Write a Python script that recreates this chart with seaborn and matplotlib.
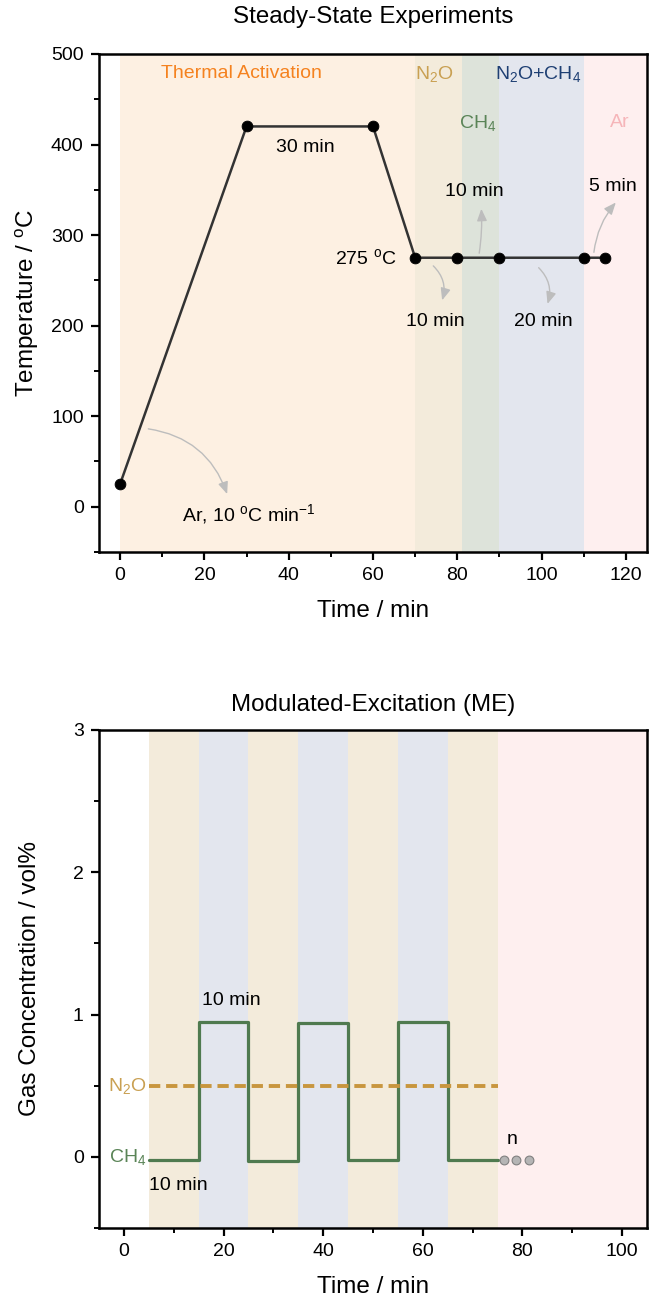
import matplotlib
matplotlib.use("Agg")
import matplotlib.pyplot as plt
import seaborn as sns
import pandas as pd

# ---- Steady-state temperature programme ----
ss_time = [0, 30, 60, 70, 80, 90, 110, 115]
ss_temp = [25, 420, 420, 275, 275, 275, 275, 275]

# background phases: (start, end, colour)
ss_phase_edges = [0, 70, 81, 90, 110, 125]
ss_phase_colors = ["#FDF0E2", "#F3EBDB", "#DDE3DA", "#E3E6EE", "#FEEFEF"]

# ---- Modulated-excitation programme ----
me_switch = [5, 15, 25, 35, 45, 55, 65, 75]
me_ch4 = [-0.02, 0.95, -0.03, 0.94, -0.02, 0.95, -0.02, -0.02]
me_n2o_time = [5, 75]
me_n2o = [0.5, 0.5]
me_dots_x = [76.2, 78.8, 81.4]
me_dots_y = [-0.02, -0.02, -0.02]
me_phase_edges = [5, 15, 25, 35, 45, 55, 65, 75, 105]
me_phase_colors = ["#F3EBDB", "#E3E6EE", "#F3EBDB", "#E3E6EE",
                   "#F3EBDB", "#E3E6EE", "#F3EBDB", "#FEEFEF"]

sns.set_theme(style="ticks")
plt.rcParams["font.family"] = ["Liberation Sans", "DejaVu Sans"]
plt.rcParams["mathtext.default"] = "regular"
plt.rcParams["axes.unicode_minus"] = False
plt.rcParams["axes.linewidth"] = 1.8
for key in ("text.color", "axes.labelcolor", "xtick.color", "ytick.color"):
    plt.rcParams[key] = "black"

W, H = 649, 1304
fig = plt.figure(figsize=(W / 100, H / 100), dpi=100)
left, width = 99 / W, 548 / W
ax1 = fig.add_axes([left, 1 - 552 / H, width, 498 / H])
ax2 = fig.add_axes([left, 1 - 1228 / H, width, 498 / H])

C_ORANGE = "#F5821F"
C_N2O = "#C9A052"
C_CH4 = "#5A8457"
C_MIX = "#1E3F73"
C_AR = "#F6B5B9"
C_ARROW = "#BDBDBD"

TICK = 14
LABEL = 17.5
TITLE = 17.4
ANN = 14
PHASE = 14


def style_axes(ax):
    ax.tick_params(axis="both", which="major", direction="out", length=6,
                   width=1.6, labelsize=TICK, pad=5, colors="black")
    ax.tick_params(axis="both", which="minor", direction="out", length=3.5,
                   width=1.4)
    for s in ax.spines.values():
        s.set_linewidth(1.8)
        s.set_color("black")
        s.set_visible(True)
    ax.yaxis.set_label_coords(-0.105, 0.5)


# ================= Top panel =================
for a, b, c in zip(ss_phase_edges[:-1], ss_phase_edges[1:], ss_phase_colors):
    ax1.axvspan(a, b, color=c, lw=0, zorder=0)

ss_df = pd.DataFrame({"time": ss_time, "temp": ss_temp})
sns.lineplot(data=ss_df, x="time", y="temp", sort=False, ax=ax1,
             color="#333333", lw=1.8, zorder=3)
sns.scatterplot(data=ss_df, x="time", y="temp", ax=ax1, color="black",
                s=60, edgecolor="black", zorder=4)

ax1.set_xlim(-5, 125)
ax1.set_ylim(-50, 500)
ax1.set_xticks(range(0, 121, 20))
ax1.set_xticks(range(10, 121, 20), minor=True)
ax1.set_yticks(range(0, 501, 100))
ax1.set_yticks(range(-50, 501, 100), minor=True)
ax1.set_xlabel("Time / min", fontsize=LABEL, labelpad=11)
ax1.set_ylabel("Temperature / $^o$C", fontsize=LABEL)
style_axes(ax1)
ax1.text(0.5, 1 + 37 / 498, "Steady-State Experiments", transform=ax1.transAxes,
         ha="center", va="center", fontsize=TITLE)

ax1.text(28.9, 478, "Thermal Activation", color=C_ORANGE, fontsize=PHASE,
         ha="center", va="center")
ax1.text(74.6, 478, "N$_2$O", color=C_N2O, fontsize=PHASE,
         ha="center", va="center")
ax1.text(99.3, 478, "N$_2$O+CH$_4$", color=C_MIX, fontsize=PHASE,
         ha="center", va="center")
ax1.text(84.9, 424, "CH$_4$", color=C_CH4, fontsize=PHASE,
         ha="center", va="center")
ax1.text(118.5, 424, "Ar", color=C_AR, fontsize=PHASE, ha="center", va="center")

ax1.text(43.9, 397, "30 min", fontsize=ANN, ha="center", va="center")
ax1.text(65.5, 275, "275 $^o$C", fontsize=ANN, ha="right", va="center")
ax1.text(14.8, -8, "Ar, 10 $^o$C min$^{-1}$", fontsize=ANN, ha="left",
         va="center")
ax1.text(74.8, 205, "10 min", fontsize=ANN, ha="center", va="center")
ax1.text(84.0, 348, "10 min", fontsize=ANN, ha="center", va="center")
ax1.text(100.3, 205, "20 min", fontsize=ANN, ha="center", va="center")
ax1.text(117.0, 354, "5 min", fontsize=ANN, ha="center", va="center")

arrow_kw = dict(arrowstyle="-|>,head_length=0.6,head_width=0.25",
                color=C_ARROW, lw=1.0, shrinkA=0, shrinkB=0)
arrows = [
    ((6.7, 86), (25.4, 14), -0.3),
    ((74.3, 266), (76.4, 228), -0.3),
    ((85.2, 280), (85.7, 329), 0.05),
    ((99.3, 264), (101.4, 224), -0.3),
    ((112.4, 281), (117.6, 336), -0.15),
]
for start, end, rad in arrows:
    ax1.annotate("", xy=end, xytext=start,
                 arrowprops=dict(connectionstyle=f"arc3,rad={rad}", **arrow_kw),
                 zorder=2)

# ================= Bottom panel =================
for a, b, c in zip(me_phase_edges[:-1], me_phase_edges[1:], me_phase_colors):
    ax2.axvspan(a, b, color=c, lw=0, zorder=0)

ch4_df = pd.DataFrame({"time": me_switch, "conc": me_ch4})
sns.lineplot(data=ch4_df, x="time", y="conc", sort=False, ax=ax2,
             color="#4F7A4F", lw=2.3, drawstyle="steps-post", zorder=3)
n2o_df = pd.DataFrame({"time": me_n2o_time, "conc": me_n2o})
sns.lineplot(data=n2o_df, x="time", y="conc", sort=False, ax=ax2,
             color="#C8963E", lw=2.8, zorder=3)
ax2.lines[-1].set_dashes([2.9, 1.5])
dots_df = pd.DataFrame({"x": me_dots_x, "y": me_dots_y})
sns.scatterplot(data=dots_df, x="x", y="y", ax=ax2, color="#B5B5B5",
                edgecolor="#808080", linewidth=0.8, s=40, zorder=4)

ax2.set_xlim(-5, 105)
ax2.set_ylim(-0.5, 3)
ax2.set_xticks(range(0, 101, 20))
ax2.set_xticks(range(10, 101, 20), minor=True)
ax2.set_yticks([0, 1, 2, 3])
ax2.set_yticks([-0.5, 0.5, 1.5, 2.5], minor=True)
ax2.set_xlabel("Time / min", fontsize=LABEL, labelpad=11)
ax2.set_ylabel("Gas Concentration / vol%", fontsize=LABEL)
style_axes(ax2)
ax2.text(0.5, 1 + 25 / 498, "Modulated-Excitation (ME)",
         transform=ax2.transAxes, ha="center", va="center", fontsize=TITLE)

ax2.text(4.6, 0.5, "N$_2$O", color=C_N2O, fontsize=PHASE,
         ha="right", va="center")
ax2.text(4.6, 0.0, "CH$_4$", color=C_CH4, fontsize=PHASE,
         ha="right", va="center")
ax2.text(15.6, 1.10, "10 min", fontsize=ANN, ha="left", va="center")
ax2.text(5.0, -0.2, "10 min", fontsize=ANN, ha="left", va="center")
ax2.text(78.0, 0.12, "n", fontsize=ANN, ha="center", va="center")

fig.savefig("out.png", dpi=100)
